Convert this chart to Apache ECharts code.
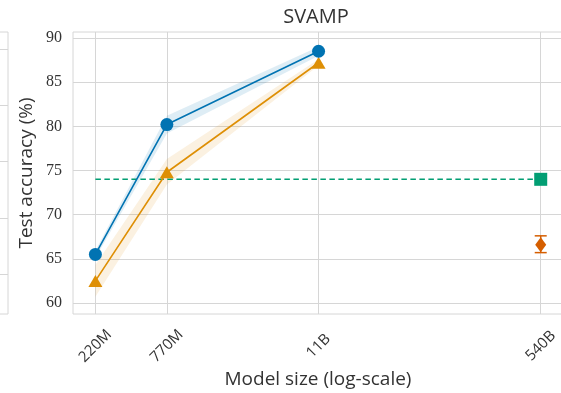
<!DOCTYPE html>
<html>
<head>
<meta charset="utf-8">
<script src="https://cdn.jsdelivr.net/npm/echarts@6/dist/echarts.min.js"></script>
<style>
  html, body { margin: 0; padding: 0; background: #fff; }
  #chart { width: 561px; height: 393px; }
</style>
</head>
<body>
<div id="chart"></div>
<script>
// Model sizes (parameters) and their tick labels
const modelSizes = [220e6, 770e6, 11e9, 540e9];
const sizeLabels = ['220M', '770M', '11B', '540B'];

// Fine-tuned models (blue, circles) with uncertainty band
const distilSizes = [220e6, 770e6, 11e9];
const distilAcc = [65.5, 80.2, 88.5];
const distilLow = [65.1, 79.2, 88.0];
const distilHigh = [65.9, 81.2, 89.0];

// Second method (orange, triangles) with uncertainty band
const baseSizes = [220e6, 770e6, 11e9];
const baseAcc = [62.5, 74.8, 87.2];
const baseLow = [60.7, 73.4, 86.9];
const baseHigh = [64.3, 76.3, 87.6];

// 540B reference points
const fewShotAcc = 74.0;            // green square + dashed line
const cotAcc = 66.6;                // diamond
const cotErr = [65.7, 67.6];        // error bar range

const yTicks = [60, 65, 70, 75, 80, 85, 90];
// gridlines of the neighbouring panel (fraction of height)
const sideTicks = [0.14, 0.34, 0.54, 0.74, 0.94];

const C_BLUE = '#0173b2', C_ORANGE = '#de8f05', C_GREEN = '#029e73', C_RED = '#d55e00';
const GRID_C = '#d6d6d6';
const SANS = '"Open Sans", "DejaVu Sans", sans-serif';
const SERIF = '"Liberation Serif", "DejaVu Serif", serif';

const pairs = (xs, ys) => xs.map((x, i) => [x, ys[i]]);

const chart = echarts.init(document.getElementById('chart'), null, { renderer: 'canvas' });

// Shaded band between lower and upper bounds, drawn as one polygon
function band(name, xs, lo, hi, color, opacity) {
  return {
    type: 'custom', name: name + '-band', z: 1, silent: true,
    data: [0],
    renderItem: (params, api) => {
      const pts = [];
      xs.forEach((x, i) => pts.push(api.coord([x, hi[i]])));
      for (let i = xs.length - 1; i >= 0; i--) pts.push(api.coord([xs[i], lo[i]]));
      return {
        type: 'polygon', shape: { points: pts },
        style: { fill: color, opacity: opacity }
      };
    }
  };
}

const option = {
  animation: false,
  backgroundColor: '#ffffff',
  title: {
    text: 'SVAMP', left: 311, top: 2, textAlign: 'center',
    textStyle: { fontFamily: SANS, fontSize: 20, fontWeight: 'normal', color: '#333' }
  },
  grid: [
    { left: 73, top: 32, right: -2, bottom: 79, show: true, borderColor: GRID_C, borderWidth: 1,
      outerBoundsMode: 'none', containLabel: false },
    { left: -300, top: 32, right: 553, bottom: 79, show: true, borderColor: GRID_C, borderWidth: 1,
      outerBoundsMode: 'none', containLabel: false }
  ],
  xAxis: [
    {
      type: 'log', logBase: 10, gridIndex: 0,
      min: Math.pow(10, 8.172), max: Math.pow(10, 11.902),
      name: 'Model size (log-scale)', nameLocation: 'middle', nameGap: 56,
      nameMoveOverlap: false,
      nameTextStyle: { fontFamily: SANS, fontSize: 19, color: '#333' },
      axisLine: { show: false },
      axisTick: { show: false, customValues: modelSizes },
      axisLabel: {
        customValues: modelSizes,
        formatter: v => {
          const i = modelSizes.findIndex(s => Math.abs(s - v) / s < 1e-6);
          return i >= 0 ? sizeLabels[i] : '';
        },
        rotate: 45, align: 'center', verticalAlign: 'middle', margin: 32,
        fontFamily: SANS, fontSize: 15, color: '#333'
      },
      splitLine: { show: true, lineStyle: { color: GRID_C, width: 1 } }
    },
    { type: 'value', gridIndex: 1, show: false, min: 0, max: 1 }
  ],
  yAxis: [
    {
      type: 'value', gridIndex: 0, min: 58.75, max: 90.68,
      name: 'Test accuracy (%)', nameLocation: 'middle', nameGap: 37,
      nameMoveOverlap: false,
      nameTextStyle: { fontFamily: SANS, fontSize: 19, color: '#333' },
      axisLine: { show: false },
      axisTick: { show: false, customValues: yTicks },
      axisLabel: { customValues: yTicks, margin: 11, fontFamily: SERIF, fontSize: 16, color: '#333' },
      splitLine: { show: true, lineStyle: { color: GRID_C, width: 1 } }
    },
    {
      type: 'value', gridIndex: 1, min: 0, max: 1,
      axisLine: { show: false },
      axisTick: { show: false, customValues: sideTicks },
      axisLabel: { show: false, customValues: sideTicks },
      splitLine: { show: true, lineStyle: { color: GRID_C, width: 1 } }
    }
  ],
  series: [
    band('distil', distilSizes, distilLow, distilHigh, C_BLUE, 0.13),
    band('base', baseSizes, baseLow, baseHigh, C_ORANGE, 0.12),
    {
      type: 'line', name: 'few-shot', data: [[modelSizes[0], fewShotAcc], [modelSizes[3], fewShotAcc]],
      symbol: 'none', lineStyle: { color: C_GREEN, width: 1.6, type: [5.5, 3.5] }, z: 2
    },
    {
      type: 'line', name: 'base', data: pairs(baseSizes, baseAcc),
      symbol: 'triangle', symbolSize: [14, 12],
      itemStyle: { color: C_ORANGE }, lineStyle: { color: C_ORANGE, width: 1.6 }, z: 3
    },
    {
      type: 'line', name: 'distil', data: pairs(distilSizes, distilAcc),
      symbol: 'circle', symbolSize: 13,
      itemStyle: { color: C_BLUE }, lineStyle: { color: C_BLUE, width: 1.6 }, z: 4
    },
    {
      type: 'scatter', name: 'few-shot-540B', data: [[modelSizes[3], fewShotAcc]],
      symbol: 'rect', symbolSize: 13, itemStyle: { color: C_GREEN, opacity: 1 }, z: 5
    },
    {
      type: 'custom', name: 'cot-err', z: 5,
      data: [[modelSizes[3], cotErr[0], cotErr[1]]],
      renderItem: (params, api) => {
        const lo = api.coord([api.value(0), api.value(1)]);
        const hi = api.coord([api.value(0), api.value(2)]);
        const cap = 6;
        const st = { stroke: C_RED, lineWidth: 1.5 };
        return {
          type: 'group',
          children: [
            { type: 'line', shape: { x1: lo[0], y1: lo[1], x2: hi[0], y2: hi[1] }, style: st },
            { type: 'line', shape: { x1: lo[0] - cap, y1: lo[1], x2: lo[0] + cap, y2: lo[1] }, style: st },
            { type: 'line', shape: { x1: hi[0] - cap, y1: hi[1], x2: hi[0] + cap, y2: hi[1] }, style: st }
          ]
        };
      }
    },
    {
      type: 'scatter', name: 'cot-540B', data: [[modelSizes[3], cotAcc]],
      symbol: 'diamond', symbolSize: [11, 15], itemStyle: { color: C_RED, opacity: 1 }, z: 6
    }
  ]
};

chart.setOption(option);
</script>
</body>
</html>
